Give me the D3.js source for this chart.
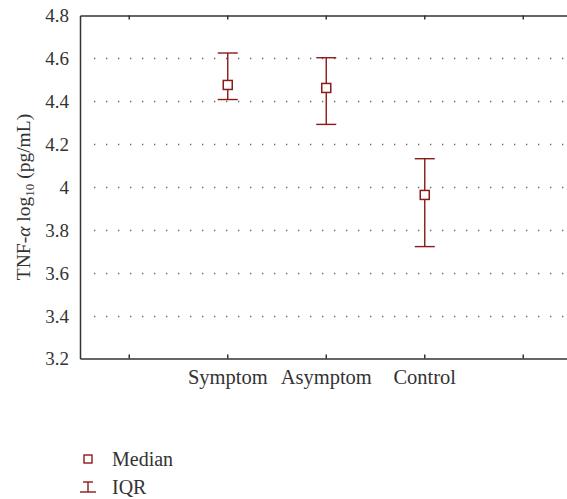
<!DOCTYPE html>
<html>
<head>
<meta charset="utf-8">
<script src="https://cdn.jsdelivr.net/npm/d3@7"></script>
<style>
  body { margin: 0; background: #fff; }
</style>
</head>
<body>
<script>
// data
let slots = ["", "Symptom", "Asymptom", "Control", " "]
let groups = ["Symptom", "Asymptom", "Control"]
let medians = [4.476, 4.462, 3.963]
let q1 = [4.408, 4.292, 3.722]
let q3 = [4.625, 4.603, 4.132]
let yTicks = [3.2, 3.4, 3.6, 3.8, 4, 4.2, 4.4, 4.6, 4.8]

let width = 567
let height = 499
let red = "#8b1a1a"
let serif = "'Liberation Serif', 'Times New Roman', Times, 'DejaVu Serif', serif"

let svg = d3.select("body").append("svg")
    .attr("width", width)
    .attr("height", height)

let x = d3.scaleBand()
    .domain(slots)
    .range([80, 572.5])

let y = d3.scaleLinear()
    .domain([3.2, 4.8])
    .range([358.5, 15.5])

// dotted grid
svg.append("g")
    .selectAll("line")
    .data(yTicks.filter(d => d > 3.2 && d < 4.8))
    .enter()
    .append("line")
        .attr("x1", 94)
        .attr("x2", width)
        .attr("y1", d => Math.round(y(d)) + 0.5)
        .attr("y2", d => Math.round(y(d)) + 0.5)
        .attr("stroke", "#666")
        .attr("stroke-width", 1.3)
        .attr("stroke-dasharray", "1.3,10.7")

// y axis
let yAxis = svg.append("g")
    .attr("transform", "translate(80,0)")
    .call(d3.axisLeft(y).tickValues(yTicks).tickSize(0).tickPadding(11).tickFormat(d3.format("")))
yAxis.select(".domain").attr("stroke", "#333").attr("stroke-width", 1.5)
yAxis.selectAll("text")
    .attr("dy", "0.34em")
    .style("font-family", serif)
    .style("font-size", "19px")
    .style("fill", "#333")

// top and bottom frame with inward ticks
let xTop = svg.append("g")
    .attr("transform", "translate(0," + y(4.8) + ")")
    .call(d3.axisBottom(x).tickSize(4).tickSizeOuter(0).tickFormat(""))
let xBot = svg.append("g")
    .attr("transform", "translate(0," + y(3.2) + ")")
    .call(d3.axisTop(x).tickSize(4).tickSizeOuter(0).tickFormat(""))
for (let g of [xTop, xBot]) {
    g.select(".domain").attr("stroke", "#333").attr("stroke-width", 1.5)
    g.selectAll(".tick line").attr("stroke", "#333").attr("stroke-width", 1.5)
}

// category labels
svg.append("g")
    .selectAll("text")
    .data(groups)
    .enter()
    .append("text")
        .attr("x", d => x(d) + x.bandwidth() / 2)
        .attr("y", 384)
        .attr("text-anchor", "middle")
        .style("font-family", serif)
        .style("font-size", "20.5px")
        .style("fill", "#333")
        .text(d => d)

// IQR bars and median squares
let marks = svg.append("g")
    .selectAll("g")
    .data(groups)
    .enter()
    .append("g")
        .attr("transform", d => "translate(" + (x(d) + x.bandwidth() / 2) + ",0)")

marks.append("line")
    .attr("y1", (d, i) => y(q3[i]))
    .attr("y2", (d, i) => y(q1[i]))
    .attr("stroke", red).attr("stroke-width", 1.4)
marks.append("line")
    .attr("x1", -10).attr("x2", 10)
    .attr("y1", (d, i) => y(q3[i])).attr("y2", (d, i) => y(q3[i]))
    .attr("stroke", red).attr("stroke-width", 1.4)
marks.append("line")
    .attr("x1", -10).attr("x2", 10)
    .attr("y1", (d, i) => y(q1[i])).attr("y2", (d, i) => y(q1[i]))
    .attr("stroke", red).attr("stroke-width", 1.4)
marks.append("rect")
    .attr("x", -4.5)
    .attr("y", (d, i) => y(medians[i]) - 4.5)
    .attr("width", 9).attr("height", 9)
    .attr("fill", "#fff")
    .attr("stroke", red).attr("stroke-width", 1.5)

// y label
svg.append("text")
    .attr("transform", "translate(30,197) rotate(-90)")
    .attr("text-anchor", "middle")
    .style("font-family", serif)
    .style("font-size", "19.5px")
    .style("fill", "#333")
    .html('TNF-<tspan font-style="italic">α</tspan> log<tspan font-size="13" dy="4">10</tspan><tspan dy="-4"> (pg/mL)</tspan>')

// legend
let legend = svg.append("g")
legend.append("rect")
    .attr("x", 84).attr("y", 455)
    .attr("width", 8).attr("height", 8)
    .attr("fill", "#fff").attr("stroke", red).attr("stroke-width", 1.4)
legend.append("line").attr("x1", 88).attr("x2", 88).attr("y1", 482).attr("y2", 492)
    .attr("stroke", red).attr("stroke-width", 1.4)
legend.append("line").attr("x1", 83).attr("x2", 93).attr("y1", 482).attr("y2", 482)
    .attr("stroke", red).attr("stroke-width", 1.4)
legend.append("line").attr("x1", 80).attr("x2", 96).attr("y1", 492).attr("y2", 492)
    .attr("stroke", red).attr("stroke-width", 1.4)
legend.selectAll("text")
    .data(["Median", "IQR"])
    .enter()
    .append("text")
        .attr("x", 112)
        .attr("y", (d, i) => 466 + i * 28)
        .style("font-family", serif)
        .style("font-size", "20px")
        .style("fill", "#333")
        .text(d => d)
</script>
</body>
</html>
